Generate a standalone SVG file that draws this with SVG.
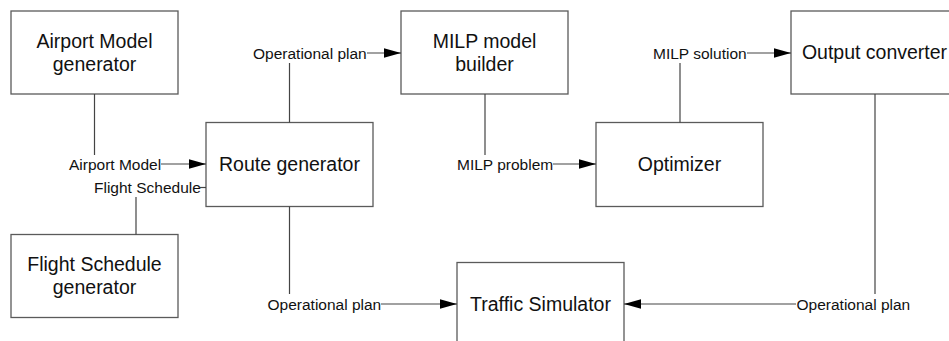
<svg xmlns="http://www.w3.org/2000/svg" width="949" height="341" viewBox="0 0 949 341">
<style>
.box{fill:#fff;stroke:#5a5a5a;stroke-width:1.3}
.bt{font-family:"Liberation Sans",Arial,sans-serif;font-size:19.5px;fill:#111;text-anchor:middle}
.lt{font-family:"Liberation Sans",Arial,sans-serif;font-size:15.5px;fill:#111}
.ln{fill:none;stroke:#444;stroke-width:1.2}
.ar{marker-end:url(#ah)}
</style>
<defs>
<marker id="ah" markerUnits="userSpaceOnUse" markerWidth="18" markerHeight="10" refX="17" refY="4.7" orient="auto">
<path d="M0,0 L17,4.7 L0,9.4 z" fill="#000"/>
</marker>
</defs>
<rect width="949" height="341" fill="#fff"/>
<g id="airport-model-generator"><rect class="box" x="11" y="11" width="167" height="83"/><text class="bt" x="94.5" y="48">Airport Model</text><text class="bt" x="94.5" y="71">generator</text></g>
<g id="flight-schedule-generator"><rect class="box" x="11" y="234.5" width="167" height="83"/><text class="bt" x="94.5" y="271">Flight Schedule</text><text class="bt" x="94.5" y="294">generator</text></g>
<g id="route-generator"><rect class="box" x="206" y="122.5" width="167" height="84"/><text class="bt" x="289.5" y="171">Route generator</text></g>
<g id="milp-model-builder"><rect class="box" x="401" y="11" width="167" height="83"/><text class="bt" x="484.5" y="48">MILP model</text><text class="bt" x="484.5" y="71">builder</text></g>
<g id="optimizer"><rect class="box" x="596" y="122.5" width="167" height="84"/><text class="bt" x="679.5" y="171">Optimizer</text></g>
<g id="output-converter"><rect class="box" x="791" y="11" width="167" height="83"/><text class="bt" x="874.5" y="58.5">Output converter</text></g>
<g id="traffic-simulator"><rect class="box" x="457" y="262.5" width="167" height="84"/><text class="bt" x="540.5" y="311">Traffic Simulator</text></g>
<g id="connectors">
<path class="ln" d="M94.5,94 V155"/>
<text class="lt" x="69" y="169.5">Airport Model</text>
<path class="ln ar" d="M161,164 H206"/>
<path class="ln" d="M136,197 V234.5"/>
<text class="lt" x="94" y="192.5">Flight Schedule</text>
<path class="ln" d="M199.5,187.5 H206"/>
<path class="ln" d="M289.5,122.5 V63"/>
<text class="lt" x="253" y="59">Operational plan</text>
<path class="ln ar" d="M367,53 H401"/>
<path class="ln" d="M485,94 V155"/>
<text class="lt" x="457" y="169.5">MILP problem</text>
<path class="ln ar" d="M553,164 H596"/>
<path class="ln" d="M680,122.5 V63"/>
<text class="lt" x="653" y="59">MILP solution</text>
<path class="ln ar" d="M747,53 H791"/>
<path class="ln" d="M289.5,206.5 V294"/>
<text class="lt" x="267.5" y="309.5">Operational plan</text>
<path class="ln ar" d="M381,304 H457"/>
<path class="ln" d="M875,94 V294"/>
<text class="lt" x="796.5" y="309.5">Operational plan</text>
<path class="ln ar" d="M796,304 H624"/>
</g>
</svg>
